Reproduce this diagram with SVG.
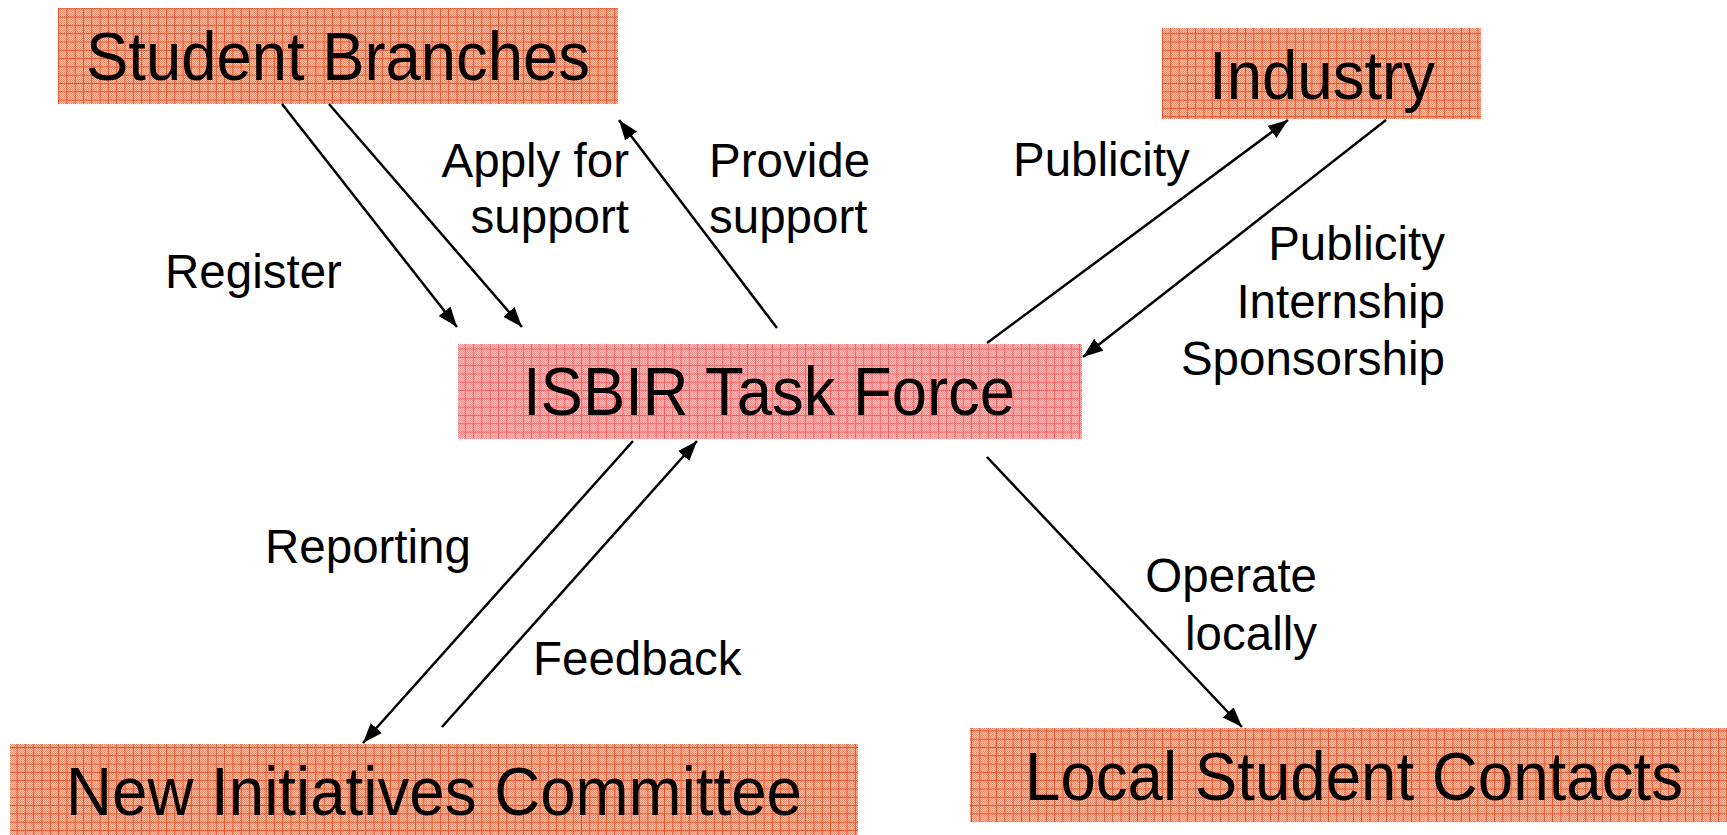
<svg xmlns="http://www.w3.org/2000/svg" width="1727" height="835" viewBox="0 0 1727 835">
<style>
  .lbl { font-family: "Liberation Sans", Arial, sans-serif; font-size: 47.5px; fill: #000; }
  .ttl { font-family: "Liberation Sans", Arial, sans-serif; font-size: 68px; fill: #000; }
  .conn { stroke: #000; stroke-width: 2.5; fill: none; marker-end: url(#ah); }
</style>
<defs>
  <marker id="ah" markerUnits="userSpaceOnUse" markerWidth="22" markerHeight="16" refX="20" refY="7.5" orient="auto">
    <path d="M0,0 L20,7.5 L0,15 z" fill="#000"/>
  </marker>
  <pattern id="chkO" width="2" height="2" patternUnits="userSpaceOnUse">
    <rect width="2" height="2" fill="#f8cdbb"/>
    <rect width="1" height="1" fill="#e98a6c"/>
    <rect x="1" y="1" width="1" height="1" fill="#e98a6c"/>
  </pattern>
  <pattern id="gridO" width="8.3" height="8.3" patternUnits="userSpaceOnUse">
    <rect width="1" height="8.3" fill="#e0552e"/>
    <rect width="8.3" height="1" fill="#e0552e"/>
  </pattern>
  <pattern id="chkP" width="2" height="2" patternUnits="userSpaceOnUse">
    <rect width="2" height="2" fill="#fcd4d4"/>
    <rect width="1" height="1" fill="#f28a8a"/>
    <rect x="1" y="1" width="1" height="1" fill="#f28a8a"/>
  </pattern>
  <pattern id="gridP" width="8.3" height="8.3" patternUnits="userSpaceOnUse">
    <rect width="1" height="8.3" fill="#f06262"/>
    <rect width="8.3" height="1" fill="#f06262"/>
  </pattern>
</defs>
<rect width="1727" height="835" fill="#fff"/>

<g id="student-branches">
  <rect x="58" y="8" width="560" height="96" fill="url(#chkO)"/>
  <rect x="58" y="8" width="560" height="96" fill="url(#gridO)"/>
  <text class="ttl" x="86" y="80" textLength="504" lengthAdjust="spacingAndGlyphs">Student Branches</text>
</g>

<g id="industry">
  <rect x="1162" y="28" width="319" height="91" fill="url(#chkO)"/>
  <rect x="1162" y="28" width="319" height="91" fill="url(#gridO)"/>
  <text class="ttl" x="1209" y="99" textLength="226" lengthAdjust="spacingAndGlyphs">Industry</text>
</g>

<g id="isbir-task-force">
  <rect x="458" y="344" width="624" height="95" fill="url(#chkP)"/>
  <rect x="458" y="344" width="624" height="95" fill="url(#gridP)"/>
  <text class="ttl" x="523" y="415" textLength="492" lengthAdjust="spacingAndGlyphs">ISBIR Task Force</text>
</g>

<g id="new-initiatives-committee">
  <rect x="10" y="744" width="848" height="91" fill="url(#chkO)"/>
  <rect x="10" y="744" width="848" height="91" fill="url(#gridO)"/>
  <text class="ttl" x="66" y="815" textLength="736" lengthAdjust="spacingAndGlyphs">New Initiatives Committee</text>
</g>

<g id="local-student-contacts">
  <rect x="970" y="728" width="757" height="94" fill="url(#chkO)"/>
  <rect x="970" y="728" width="757" height="94" fill="url(#gridO)"/>
  <text class="ttl" x="1025" y="800" textLength="658" lengthAdjust="spacingAndGlyphs">Local Student Contacts</text>
</g>

<g id="connectors">
  <line class="conn" x1="282" y1="104" x2="457" y2="327"/>
  <line class="conn" x1="329" y1="104" x2="522" y2="327"/>
  <line class="conn" x1="777" y1="328" x2="619" y2="120"/>
  <line class="conn" x1="987" y1="343" x2="1288" y2="120"/>
  <line class="conn" x1="1386" y1="120" x2="1083" y2="357"/>
  <line class="conn" x1="633" y1="441" x2="363" y2="743"/>
  <line class="conn" x1="442" y1="727" x2="697" y2="441"/>
  <line class="conn" x1="987" y1="457" x2="1242" y2="727"/>
</g>

<g id="labels">
  <text class="lbl" x="165" y="288">Register</text>
  <text class="lbl" x="629" y="177" text-anchor="end">Apply for</text>
  <text class="lbl" x="629" y="233" text-anchor="end">support</text>
  <text class="lbl" x="709" y="177">Provide</text>
  <text class="lbl" x="709" y="233">support</text>
  <text class="lbl" x="1013" y="176">Publicity</text>
  <text class="lbl" x="1445" y="260" text-anchor="end">Publicity</text>
  <text class="lbl" x="1445" y="318" text-anchor="end">Internship</text>
  <text class="lbl" x="1445" y="375" text-anchor="end">Sponsorship</text>
  <text class="lbl" x="265" y="563">Reporting</text>
  <text class="lbl" x="533" y="675">Feedback</text>
  <text class="lbl" x="1317" y="592" text-anchor="end">Operate</text>
  <text class="lbl" x="1317" y="650" text-anchor="end">locally</text>
</g>
</svg>
